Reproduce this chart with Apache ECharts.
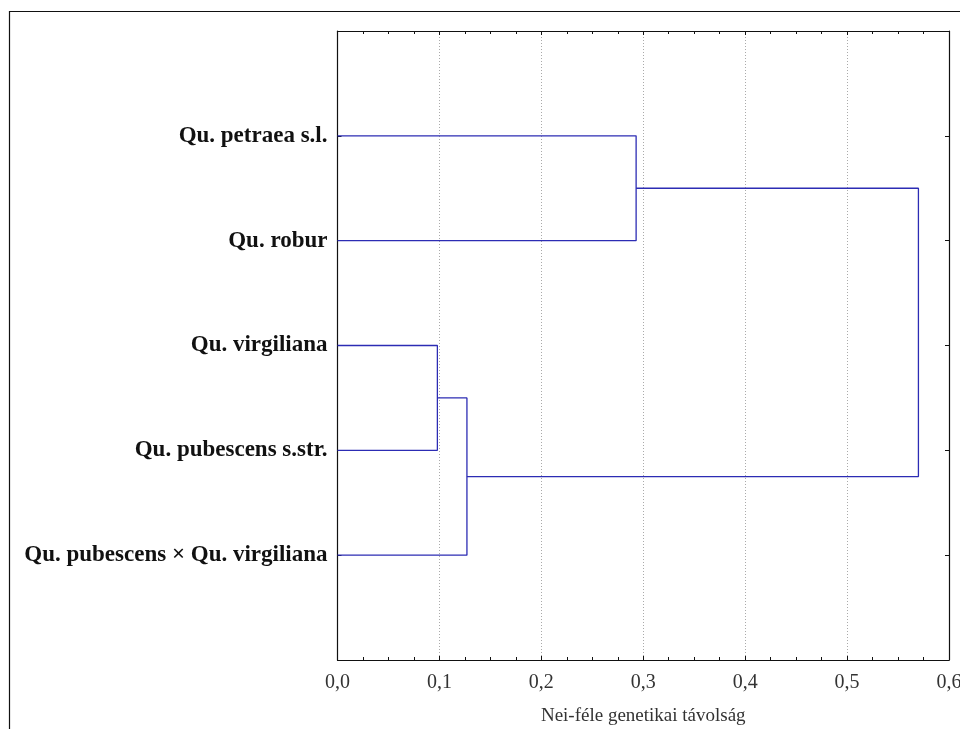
<!DOCTYPE html>
<html><head><meta charset="utf-8">
<script src="https://cdn.jsdelivr.net/npm/echarts@6/dist/echarts.min.js"></script>
<style>html,body{margin:0;padding:0;background:#fff}#c{width:960px;height:729px}</style>
</head><body><div id="c"></div>
<script>
const leafLabels = ['Qu. petraea s.l.', 'Qu. robur', 'Qu. virgiliana', 'Qu. pubescens s.str.', 'Qu. pubescens × Qu. virgiliana'];
// merges: [childA, childB, distance]; indices >= 5 refer to earlier merges
const mergeA = [2, 0, 5, 6];
const mergeB = [3, 1, 4, 7];
const mergeDist = [0.098, 0.293, 0.127, 0.570];
const xTicks = [0, 0.1, 0.2, 0.3, 0.4, 0.5, 0.6];
const xAxisName = 'Nei-féle genetikai távolság';

const n = leafLabels.length;
const nodePos = [];   // [x, y]
for (let i = 0; i < n; i++) nodePos.push([0, i + 1]);
const series = [];
for (let k = 0; k < mergeDist.length; k++) {
  const a = nodePos[mergeA[k]], b = nodePos[mergeB[k]], d = mergeDist[k];
  series.push({
    type: 'line', silent: true, symbol: 'none', animation: false,
    lineStyle: { color: '#2c2cb4', width: 1.3 },
    data: [[a[0], a[1]], [d, a[1]], [d, b[1]], [b[0], b[1]]]
  });
  nodePos.push([d, (a[1] + b[1]) / 2]);
}

const chart = echarts.init(document.getElementById('c'));
const serif = '"Liberation Serif", "Times New Roman", serif';
const axLine = { show: true, onZero: false, lineStyle: { color: '#111', width: 1.2 } };
chart.setOption({
  backgroundColor: '#fff',
  animation: false,
  grid: { left: 337.5, right: 11, top: 31, bottom: 69, outerBoundsMode: 'none', containLabel: false },
  graphic: [{ type: 'rect', shape: { x: 9.5, y: 11.5, width: 960, height: 760 },
    style: { fill: 'none', stroke: '#111', lineWidth: 1.2 }, z: -1 }],
  xAxis: [{
    type: 'value', min: xTicks[0], max: xTicks[xTicks.length - 1], interval: 0.1,
    position: 'bottom',
    axisLine: axLine,
    axisTick: { inside: true, length: 4, lineStyle: { color: '#111' } },
    minorTick: { show: true, splitNumber: 4, length: 3, lineStyle: { color: '#111' } },
    splitLine: { show: true, lineStyle: { color: '#aaa', type: [1, 2], width: 1 } },
    axisLabel: { formatter: v => v.toFixed(1).replace('.', ','), fontFamily: serif, fontSize: 20, color: '#333', margin: 13 },
    name: xAxisName, nameLocation: 'middle', nameGap: 47,
    nameTextStyle: { fontFamily: serif, fontSize: 19, color: '#333' }
  }, {
    type: 'value', min: xTicks[0], max: xTicks[xTicks.length - 1], interval: 0.1,
    position: 'top',
    axisLine: axLine,
    axisTick: { inside: true, length: 4, lineStyle: { color: '#111' } },
    minorTick: { show: true, splitNumber: 4, length: 3, lineStyle: { color: '#111' } },
    splitLine: { show: false }, axisLabel: { show: false }
  }],
  yAxis: [{
    type: 'value', min: 0, max: n + 1, interval: 1, inverse: true, position: 'left',
    axisLine: axLine,
    axisTick: { show: true, inside: true, length: 4, lineStyle: { color: '#111' } },
    splitLine: { show: false },
    axisLabel: { formatter: v => (v >= 1 && v <= n) ? leafLabels[v - 1] : '',
      fontFamily: serif, fontSize: 23, fontWeight: 'bold', color: '#111', margin: 10 }
  }, {
    type: 'value', min: 0, max: n + 1, interval: 1, inverse: true, position: 'right',
    axisLine: axLine,
    axisTick: { show: true, inside: true, length: 4, lineStyle: { color: '#111' } },
    splitLine: { show: false }, axisLabel: { show: false }
  }],
  series: series
});
</script></body></html>
